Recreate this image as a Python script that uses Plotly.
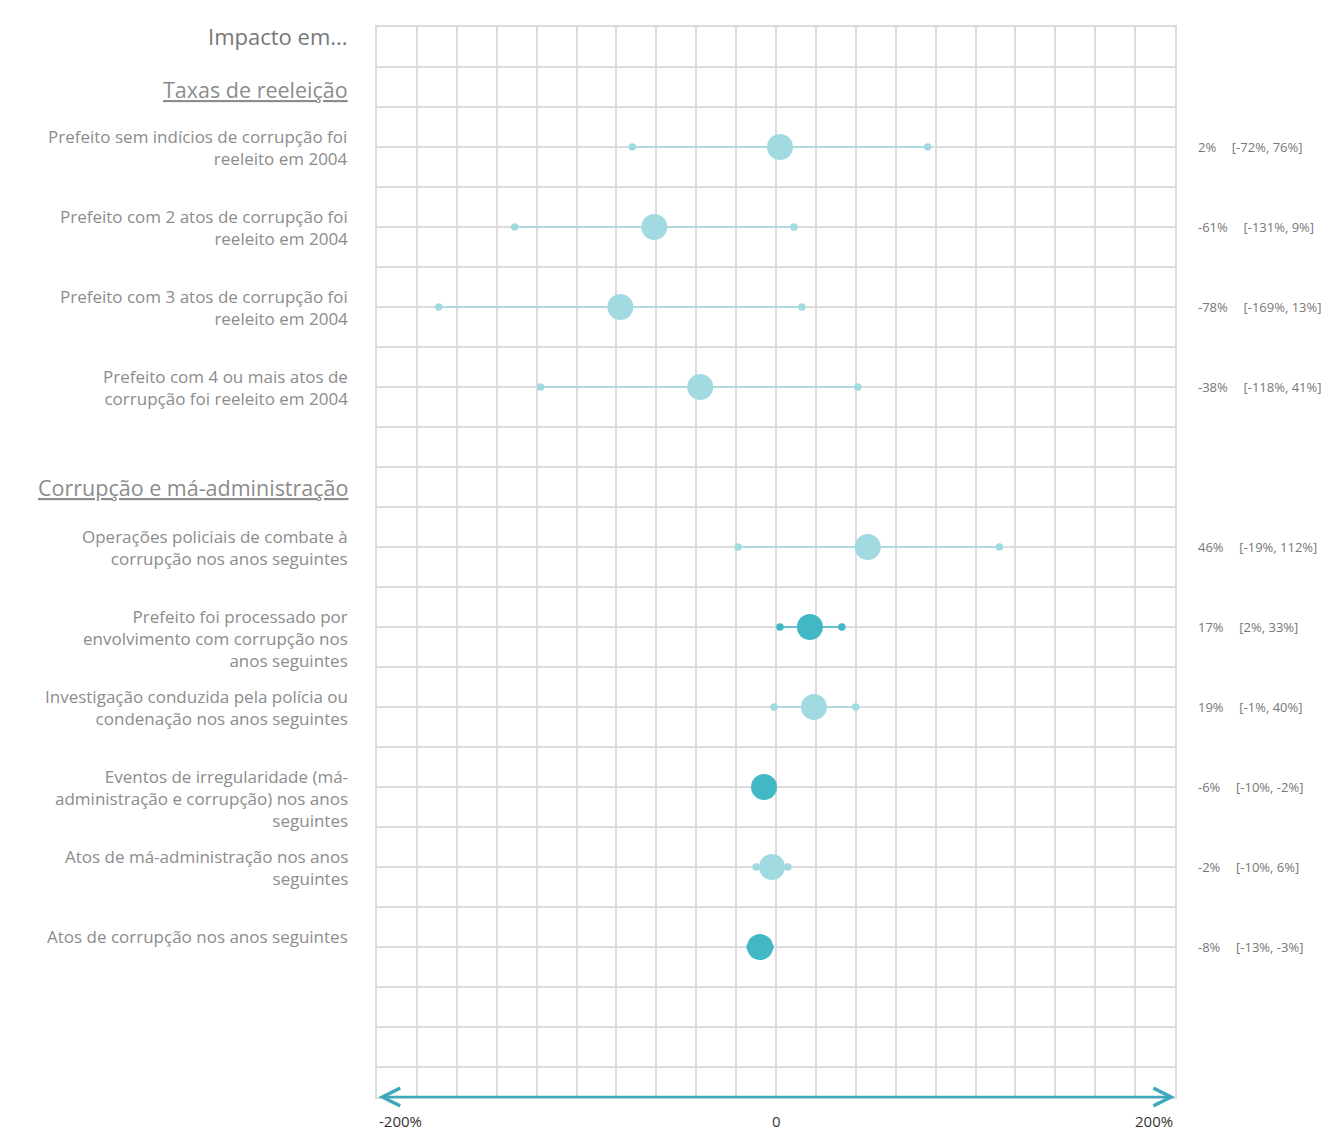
import plotly.graph_objects as go

# ---- data ----
group_titles = ["Taxas de reeleição", "Corrupção e má-administração"]
labels_g1 = [
    "Prefeito sem indícios de corrupção foi<br>reeleito em 2004",
    "Prefeito com 2 atos de corrupção foi<br>reeleito em 2004",
    "Prefeito com 3 atos de corrupção foi<br>reeleito em 2004",
    "Prefeito com 4 ou mais atos de<br>corrupção foi reeleito em 2004",
]
labels_g2 = [
    "Operações policiais de combate à<br>corrupção nos anos seguintes",
    "Prefeito foi processado por<br>envolvimento com corrupção nos<br>anos seguintes",
    "Investigação conduzida pela polícia ou<br>condenação nos anos seguintes",
    "Eventos de irregularidade (má-<br>administração e corrupção) nos anos<br>seguintes",
    "Atos de má-administração nos anos<br>seguintes",
    "Atos de corrupção nos anos seguintes",
]
est_g1 = [2, -61, -78, -38]
lo_g1 = [-72, -131, -169, -118]
hi_g1 = [76, 9, 13, 41]
est_g2 = [46, 17, 19, -6, -2, -8]
lo_g2 = [-19, 2, -1, -10, -10, -13]
hi_g2 = [112, 33, 40, -2, 6, -3]
x_ticks = [-200, 0, 200]
x_tick_labels = ["-200%", "0", "200%"]

# ---- layout helpers ----
LIGHT = "#a2dae1"
DARK = "#42b8c5"
AXIS = "#3fa9bc"
ZERO = "#4a9cb1"
GRID = "#dcdcdc"
LABEL = "#8c8c8c"
FONT = "Open Sans"

rows_g1 = [3 + 2 * i for i in range(len(est_g1))]
rows_g2 = [13 + 2 * i for i in range(len(est_g2))]
labels = labels_g1 + labels_g2
est = est_g1 + est_g2
lo = lo_g1 + lo_g2
hi = hi_g1 + hi_g2
rows = rows_g1 + rows_g2
Y_BOTTOM = 26.75

fig = go.Figure()

for lab, e, l, h, r in zip(labels, est, lo, hi, rows):
    sig = l > 0 or h < 0
    col = DARK if sig else LIGHT
    fig.add_trace(go.Scatter(
        x=[l, h], y=[r, r], mode="lines+markers",
        line=dict(color=col, width=1.3),
        marker=dict(size=7.5, color=col),
        hoverinfo="skip", showlegend=False,
    ))
    fig.add_trace(go.Scatter(
        x=[e], y=[r], mode="markers",
        marker=dict(size=26, color=col),
        showlegend=False, name=lab.replace("<br>", " "),
    ))

annotations = []
annotations.append(dict(
    text="Impacto em...", xref="paper", yref="y", x=-0.034, y=0.22,
    xanchor="right", yanchor="middle", showarrow=False,
    font=dict(family=FONT, size=22, color="#777777"),
))
for title, yy in zip(group_titles, [1.55, 11.52]):
    annotations.append(dict(
        text="<u>" + title + "</u>", xref="paper", yref="y", x=-0.034, y=yy,
        xanchor="right", yanchor="middle", showarrow=False,
        font=dict(family=FONT, size=21.5, color=LABEL),
    ))
for lab, e, l, h, r in zip(labels, est, lo, hi, rows):
    annotations.append(dict(
        text=lab, xref="paper", yref="y", x=-0.034, y=r - 0.6,
        xanchor="right", yanchor="top", align="right", showarrow=False,
        font=dict(family=FONT, size=17, color=LABEL),
    ))
    annotations.append(dict(
        text=f"{e}%" + "\u00a0" * 4 + "\u2009" + f"[{l}%, {h}%]",
        xref="paper", yref="y", x=1.026, y=r,
        xanchor="left", yanchor="middle", showarrow=False,
        font=dict(family=FONT, size=13, color="#777777"),
    ))
for tv, tl, anc in zip(x_ticks, x_tick_labels, ["left", "center", "right"]):
    annotations.append(dict(
        text=tl, xref="x", yref="paper", x=tv, y=-0.011,
        xanchor=anc, yanchor="top", showarrow=False,
        font=dict(family=FONT, size=15, color="#333333"),
    ))
annotations.append(dict(
    text="", xref="x", yref="y", x=200, y=Y_BOTTOM,
    axref="x", ayref="y", ax=-200, ay=Y_BOTTOM,
    showarrow=True, arrowside="end+start", arrowhead=5, startarrowhead=5,
    arrowsize=1.4, startarrowsize=1.4, arrowwidth=2.5, arrowcolor=AXIS,
    standoff=0, startstandoff=0,
))

shapes = [dict(
    type="line", xref="x", yref="y", x0=0, x1=0, y0=0, y1=Y_BOTTOM,
    line=dict(color=ZERO, width=2), layer="below",
)]

fig.update_layout(
    width=1334, height=1147,
    margin=dict(l=369, r=167, t=19, b=58),
    paper_bgcolor="white", plot_bgcolor="white",
    font=dict(family=FONT, color=LABEL),
    annotations=annotations, shapes=shapes,
    xaxis=dict(range=[-200, 200], dtick=20, tick0=-200, showgrid=True,
               gridcolor=GRID, gridwidth=1.5, zeroline=False,
               showticklabels=False, ticks="", showline=True, mirror=True,
               linecolor=GRID, linewidth=1.5, fixedrange=True),
    yaxis=dict(range=[Y_BOTTOM, 0], dtick=1, tick0=0, showgrid=True,
               gridcolor=GRID, gridwidth=1.5, zeroline=False,
               showticklabels=False, ticks="", showline=True, mirror=True,
               linecolor=GRID, linewidth=1.5, fixedrange=True),
    hovermode="closest",
)

fig.write_html("out.html")
